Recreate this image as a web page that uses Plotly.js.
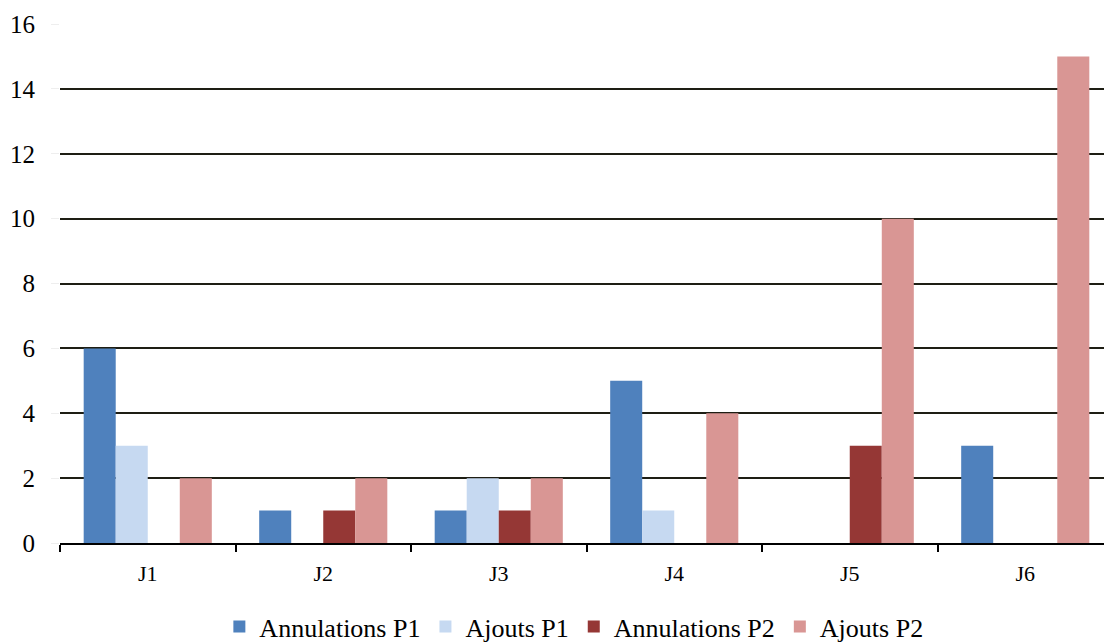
<!DOCTYPE html>
<html>
<head>
<meta charset="utf-8">
<script src="https://cdn.plot.ly/plotly-3.0.1.min.js"></script>
<style>html,body{margin:0;padding:0;overflow:hidden;background:#fff}#chart{width:1113px;height:642px}</style>
</head>
<body>
<div id="chart"></div>
<script>
const categories = ["J1", "J2", "J3", "J4", "J5", "J6"];
const annulationsP1 = [6, 1, 1, 5, 0, 3];
const ajoutsP1 = [3, 0, 2, 1, 0, 0];
const annulationsP2 = [0, 1, 1, 0, 3, 0];
const ajoutsP2 = [2, 2, 2, 4, 10, 15];
const seriesNames = ["Annulations P1", "Ajouts P1", "Annulations P2", "Ajouts P2"];
const seriesColors = ["#4F81BD", "#C6D9F1", "#953735", "#D99694"];
const yTicks = [0, 2, 4, 6, 8, 10, 12, 14, 16];

const values = [annulationsP1, ajoutsP1, annulationsP2, ajoutsP2];
const traces = values.map((v, i) => ({
  type: "bar",
  x: categories,
  y: v,
  name: seriesNames[i],
  marker: {color: seriesColors[i], line: {width: 0}}
}));

const font = "Liberation Serif";
const layout = {
  width: 1113,
  height: 642,
  margin: {l: 60, r: 0, t: 24, b: 99},
  paper_bgcolor: "#ffffff",
  plot_bgcolor: "#ffffff",
  barmode: "group",
  bargap: 0.27,
  bargroupgap: 0,
  font: {family: font, color: "#000000", size: 24},
  legend: {
    orientation: "h",
    x: 0.488, xanchor: "center",
    yref: "container", y: 0.024, yanchor: "middle",
    font: {family: font, size: 26},
    traceorder: "normal"
  },
  xaxis: {
    type: "category",
    tickson: "boundaries",
    ticks: "outside",
    ticklen: 7,
    tickwidth: 1.5,
    tickcolor: "#000000",
    showline: true,
    linecolor: "#000000",
    linewidth: 1.5,
    showgrid: false,
    zeroline: false,
    ticklabelstandoff: 10,
    tickfont: {family: font, size: 22}
  },
  yaxis: {
    range: [0, 16],
    tickmode: "array",
    tickvals: yTicks,
    ticktext: yTicks.map(String),
    ticks: "outside",
    ticklen: 8,
    tickcolor: "#eeeeee",
    showgrid: true,
    gridcolor: "#1e1e14",
    gridwidth: 1.5,
    showline: false,
    zeroline: false,
    ticklabelstandoff: 11,
    tickfont: {family: font, size: 25}
  }
};

Plotly.newPlot("chart", traces, layout, {displayModeBar: false});
</script>
</body>
</html>
